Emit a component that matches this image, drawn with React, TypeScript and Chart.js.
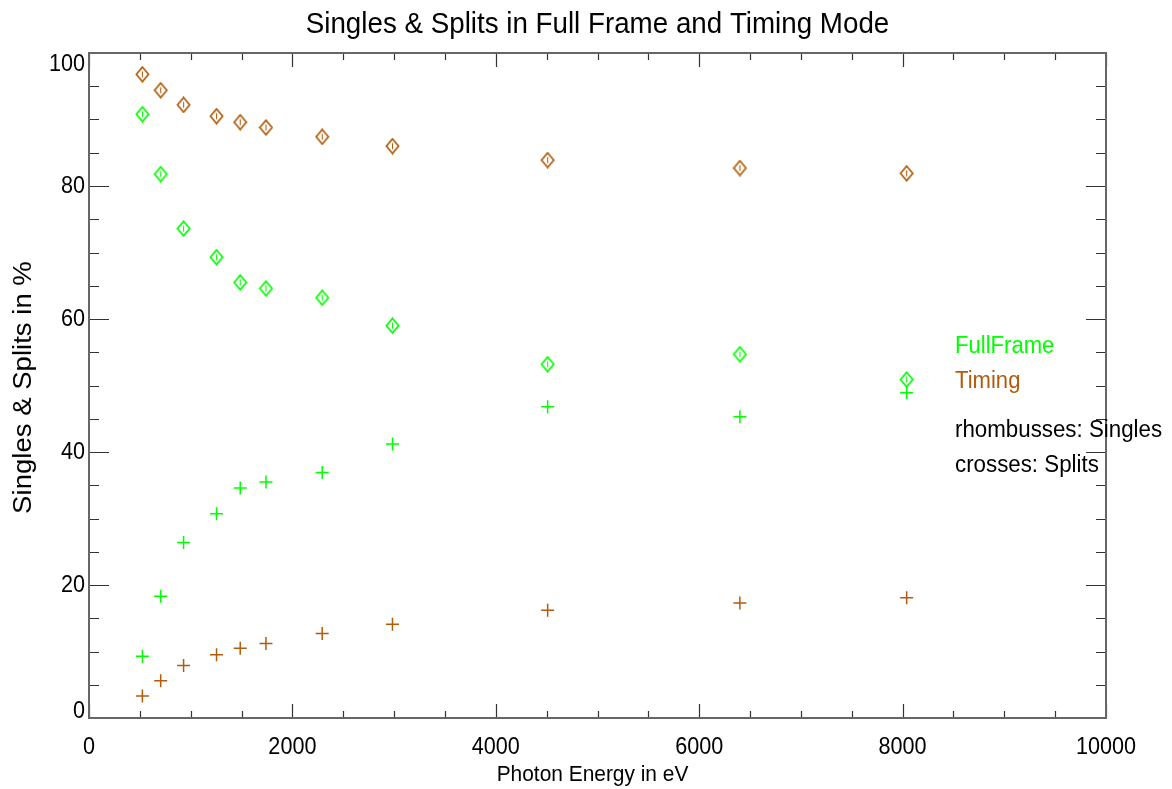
import React, { useEffect, useRef } from "react";
import { Chart, registerables } from "chart.js";

Chart.register(...registerables);

const energies = [525, 705, 930, 1254, 1487, 1740, 2293, 2984, 4510, 6400, 8040];
const ffSingles = [90.8, 81.8, 73.6, 69.3, 65.5, 64.6, 63.2, 59.0, 53.2, 54.7, 50.9];
const timingSingles = [96.8, 94.4, 92.2, 90.5, 89.6, 88.8, 87.4, 86.0, 83.9, 82.7, 81.9];
const ffSplits = [9.3, 18.3, 26.4, 30.7, 34.6, 35.5, 36.9, 41.2, 46.8, 45.3, 48.9];
const timingSplits = [3.3, 5.6, 7.9, 9.5, 10.5, 11.2, 12.7, 14.1, 16.2, 17.3, 18.1];

const xTickValues = [0, 2000, 4000, 6000, 8000, 10000];
const yTickValues = [0, 20, 40, 60, 80, 100];

const TITLE = "Singles & Splits in Full Frame and Timing Mode";
const X_TITLE = "Photon Energy in eV";
const Y_TITLE = "Singles & Splits in %";
const LEGEND_LINES = ["FullFrame", "Timing", "rhombusses: Singles", "crosses: Splits"];

const GREEN = "#00ff00";
const BROWN = "#b15c0c";
const FONT = "'Liberation Sans', Arial, sans-serif";

function makeDiamond(color: string): HTMLCanvasElement {
  const c = document.createElement("canvas");
  c.width = 15;
  c.height = 17;
  const ctx = c.getContext("2d")!;
  ctx.strokeStyle = color;
  ctx.lineWidth = 1.7;
  ctx.beginPath();
  ctx.moveTo(7.5, 1.2);
  ctx.lineTo(13.6, 8.5);
  ctx.lineTo(7.5, 15.8);
  ctx.lineTo(1.4, 8.5);
  ctx.closePath();
  ctx.stroke();
  ctx.lineWidth = 1.1;
  ctx.beginPath();
  ctx.moveTo(7.5, 5.5);
  ctx.lineTo(7.5, 11.5);
  ctx.stroke();
  return c;
}

function drawText(
  ctx: CanvasRenderingContext2D,
  text: string,
  x: number,
  y: number,
  size: number,
  color: string,
  align: CanvasTextAlign,
  baseline: CanvasTextBaseline,
  sx: number,
  rot = 0
) {
  ctx.save();
  ctx.translate(x, y);
  if (rot) ctx.rotate(rot);
  ctx.scale(sx, 1);
  ctx.font = `${size}px ${FONT}`;
  ctx.fillStyle = color;
  ctx.textAlign = align;
  ctx.textBaseline = baseline;
  ctx.fillText(text, 0, 0);
  ctx.restore();
}

const framePlugin = {
  id: "idlFrame",
  afterDraw(chart: any) {
    const ctx: CanvasRenderingContext2D = chart.ctx;
    const { left, right, top, bottom } = chart.chartArea;
    const xs = chart.scales.x;
    const ys = chart.scales.y;

    ctx.save();
    ctx.strokeStyle = "#333";
    ctx.lineWidth = 1.2;
    ctx.beginPath();
    for (let v = 0; v <= 10000; v += 500) {
      const px = Math.round(xs.getPixelForValue(v)) + 0.5;
      const len = v % 2000 === 0 ? 14 : 7;
      ctx.moveTo(px, bottom);
      ctx.lineTo(px, bottom - len);
      ctx.moveTo(px, top);
      ctx.lineTo(px, top + len);
    }
    for (let v = 0; v <= 100; v += 5) {
      const py = Math.round(ys.getPixelForValue(v)) + 0.5;
      const len = v % 20 === 0 ? 20 : 10;
      ctx.moveTo(left, py);
      ctx.lineTo(left + len, py);
      ctx.moveTo(right, py);
      ctx.lineTo(right - len, py);
    }
    ctx.stroke();
    ctx.strokeStyle = "#666";
    ctx.lineWidth = 2;
    ctx.strokeRect(left, top, right - left, bottom - top);
    ctx.restore();

    xTickValues.forEach((v) => {
      drawText(ctx, String(v), xs.getPixelForValue(v), 754, 24, "#000", "center", "alphabetic", 0.9);
    });
    yTickValues.forEach((v) => {
      const py = ys.getPixelForValue(v);
      let baseline: CanvasTextBaseline = "middle";
      let y = py;
      if (v === 100) {
        baseline = "top";
        y = top - 1;
      } else if (v === 0) {
        baseline = "alphabetic";
        y = bottom;
      }
      drawText(ctx, String(v), left - 4, y, 24, "#000", "right", baseline, 0.9);
    });

    drawText(ctx, TITLE, (left + right) / 2, 33, 30, "#000", "center", "alphabetic", 0.925);
    drawText(ctx, X_TITLE, (left + right) / 2 - 5, 781, 22, "#000", "center", "alphabetic", 0.95);
    drawText(ctx, Y_TITLE, 31, (top + bottom) / 2 + 2, 26, "#000", "center", "alphabetic", 1.06, -Math.PI / 2);

    drawText(ctx, LEGEND_LINES[0], 955, 353, 23, GREEN, "left", "alphabetic", 0.96);
    drawText(ctx, LEGEND_LINES[1], 955, 388, 23, BROWN, "left", "alphabetic", 0.96);
    drawText(ctx, LEGEND_LINES[2], 955, 437, 23, "#000", "left", "alphabetic", 0.97);
    drawText(ctx, LEGEND_LINES[3], 955, 472, 23, "#000", "left", "alphabetic", 0.97);
  },
};

export default function App() {
  const ref = useRef<HTMLCanvasElement | null>(null);

  useEffect(() => {
    document.body.style.margin = "0";
    document.body.style.background = "#fff";
    const canvas = ref.current!;
    const pts = (ys: number[]) => energies.map((e, i) => ({ x: e, y: ys[i] }));
    const greenDiamond = makeDiamond(GREEN);
    const brownDiamond = makeDiamond(BROWN);

    const chart = new Chart(canvas, {
      type: "scatter",
      data: {
        datasets: [
          {
            label: "FullFrame Singles",
            data: pts(ffSingles),
            pointStyle: greenDiamond as any,
            borderColor: GREEN,
            backgroundColor: GREEN,
          },
          {
            label: "Timing Singles",
            data: pts(timingSingles),
            pointStyle: brownDiamond as any,
            borderColor: BROWN,
            backgroundColor: BROWN,
          },
          {
            label: "FullFrame Splits",
            data: pts(ffSplits),
            pointStyle: "cross",
            pointRadius: 6.5,
            pointBorderWidth: 1.5,
            borderColor: GREEN,
            backgroundColor: GREEN,
          },
          {
            label: "Timing Splits",
            data: pts(timingSplits),
            pointStyle: "cross",
            pointRadius: 6.5,
            pointBorderWidth: 1.5,
            borderColor: BROWN,
            backgroundColor: BROWN,
          },
        ],
      },
      options: {
        responsive: false,
        animation: false,
        layout: { padding: { left: 89, top: 53, right: 66, bottom: 71 } },
        plugins: {
          legend: { display: false },
          tooltip: { enabled: false },
          title: { display: false },
        },
        scales: {
          x: { type: "linear", min: 0, max: 10000, display: false },
          y: { type: "linear", min: 0, max: 100, display: false },
        },
      },
      plugins: [framePlugin],
    });
    return () => chart.destroy();
  }, []);

  return <canvas ref={ref} width={1172} height={789} style={{ display: "block" }} />;
}
